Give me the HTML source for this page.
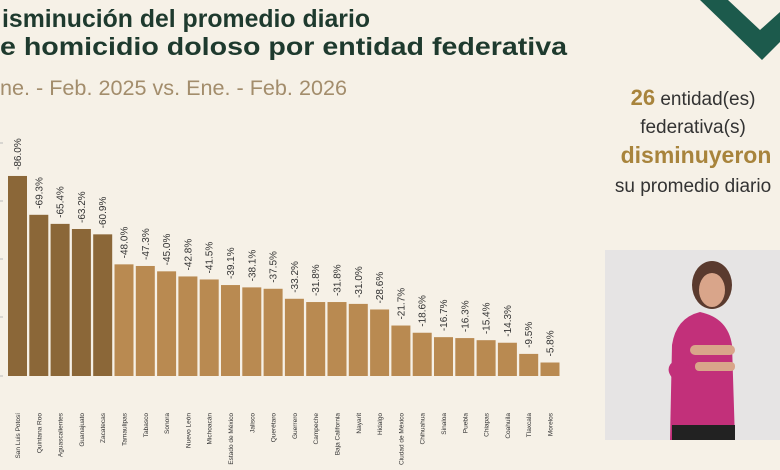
<!DOCTYPE html>
<html><head><meta charset="utf-8"><style>
html,body{margin:0;padding:0;background:#f6f1e7;width:780px;height:470px;overflow:hidden}
svg{display:block}
</style></head><body>
<svg width="780" height="470" xmlns="http://www.w3.org/2000/svg" font-family="Liberation Sans, sans-serif">
<rect width="780" height="470" fill="#f6f1e7"/>
<polygon points="700,0 728,0 760,30 780,12 780,42 762,60" fill="#1c5a4c"/>
<polygon points="735,0 780,0 780,8 760,24" fill="#f6f1e7"/>
<text x="-30" y="27" font-size="25" font-weight="bold" fill="#1e3a2e">D</text>
<text x="2" y="27" font-size="25" font-weight="bold" fill="#1e3a2e" textLength="368" lengthAdjust="spacingAndGlyphs">isminución del promedio diario</text>
<text x="-30" y="55" font-size="25" font-weight="bold" fill="#1e3a2e">d</text>
<text x="0" y="55" font-size="25" font-weight="bold" fill="#1e3a2e" textLength="567" lengthAdjust="spacingAndGlyphs">e homicidio doloso por entidad federativa</text>
<text x="-30" y="95" font-size="21" fill="#a38d6c">E</text>
<text x="0" y="95" font-size="21" fill="#a38d6c" textLength="347" lengthAdjust="spacingAndGlyphs">ne. - Feb. 2025 vs. Ene. - Feb. 2026</text>
<g stroke="#bbb" stroke-width="1">
<line x1="0" y1="143" x2="3" y2="143"/><line x1="0" y1="201" x2="3" y2="201"/><line x1="0" y1="259" x2="3" y2="259"/><line x1="0" y1="317" x2="3" y2="317"/><line x1="0" y1="376" x2="3" y2="376"/>
</g>
<g id="bars"></g>
<text x="693" y="105" text-anchor="middle" font-size="19" fill="#333"><tspan font-weight="bold" fill="#a8843c" font-size="22">26</tspan> entidad(es)</text>
<text x="693" y="133" text-anchor="middle" font-size="19" fill="#333">federativa(s)</text>
<text x="696" y="163" text-anchor="middle" font-size="23" font-weight="bold" fill="#a8843c">disminuyeron</text>
<text x="693" y="192" text-anchor="middle" font-size="19" fill="#333">su promedio diario</text>
<rect x="605" y="250" width="175" height="190" fill="#e6e4e4"/>
<path d="M670,440 L672,345 Q676,318 700,312 Q728,318 732,345 L735,440 Z" fill="#c2307a"/>
<path d="M675,360 Q660,370 680,385 L705,372 Z" fill="#c2307a"/>
<ellipse cx="712" cy="285" rx="20" ry="24" fill="#5a3a2e"/>
<ellipse cx="712" cy="290" rx="13" ry="17" fill="#d9a58a"/>
<rect x="690" y="345" width="45" height="10" rx="5" fill="#d9a58a"/>
<rect x="695" y="362" width="40" height="9" rx="4" fill="#d9a58a"/>
<rect x="672" y="425" width="63" height="15" fill="#222"/>
</svg>
<script>
const d=[["San Luis Potosí",86.0],["Quintana Roo",69.3],["Aguascalientes",65.4],["Guanajuato",63.2],["Zacatecas",60.9],["Tamaulipas",48.0],["Tabasco",47.3],["Sonora",45.0],["Nuevo León",42.8],["Michoacán",41.5],["Estado de México",39.1],["Jalisco",38.1],["Querétaro",37.5],["Guerrero",33.2],["Campeche",31.8],["Baja California",31.8],["Nayarit",31.0],["Hidalgo",28.6],["Ciudad de México",21.7],["Chihuahua",18.6],["Sinaloa",16.7],["Puebla",16.3],["Chiapas",15.4],["Coahuila",14.3],["Tlaxcala",9.5],["Morelos",5.8]];
let s="";
d.forEach((e,i)=>{const x=8+i*21.3,h=e[1]*2.326,t=376-h,c=x+9.5;
s+=`<rect x="${x}" y="${t}" width="19" height="${h}" fill="${i<5?'#8b6738':'#b98a51'}"/>`;
s+=`<text transform="translate(${c+3.5},${t-6}) rotate(-90)" font-size="10" fill="#333">-${e[1].toFixed(1)}%</text>`;
s+=`<text transform="translate(${c+2.5},413) rotate(-90)" text-anchor="end" font-size="6.5" fill="#333">${e[0]}</text>`;});
document.getElementById("bars").innerHTML=s;
</script>
</body></html>
